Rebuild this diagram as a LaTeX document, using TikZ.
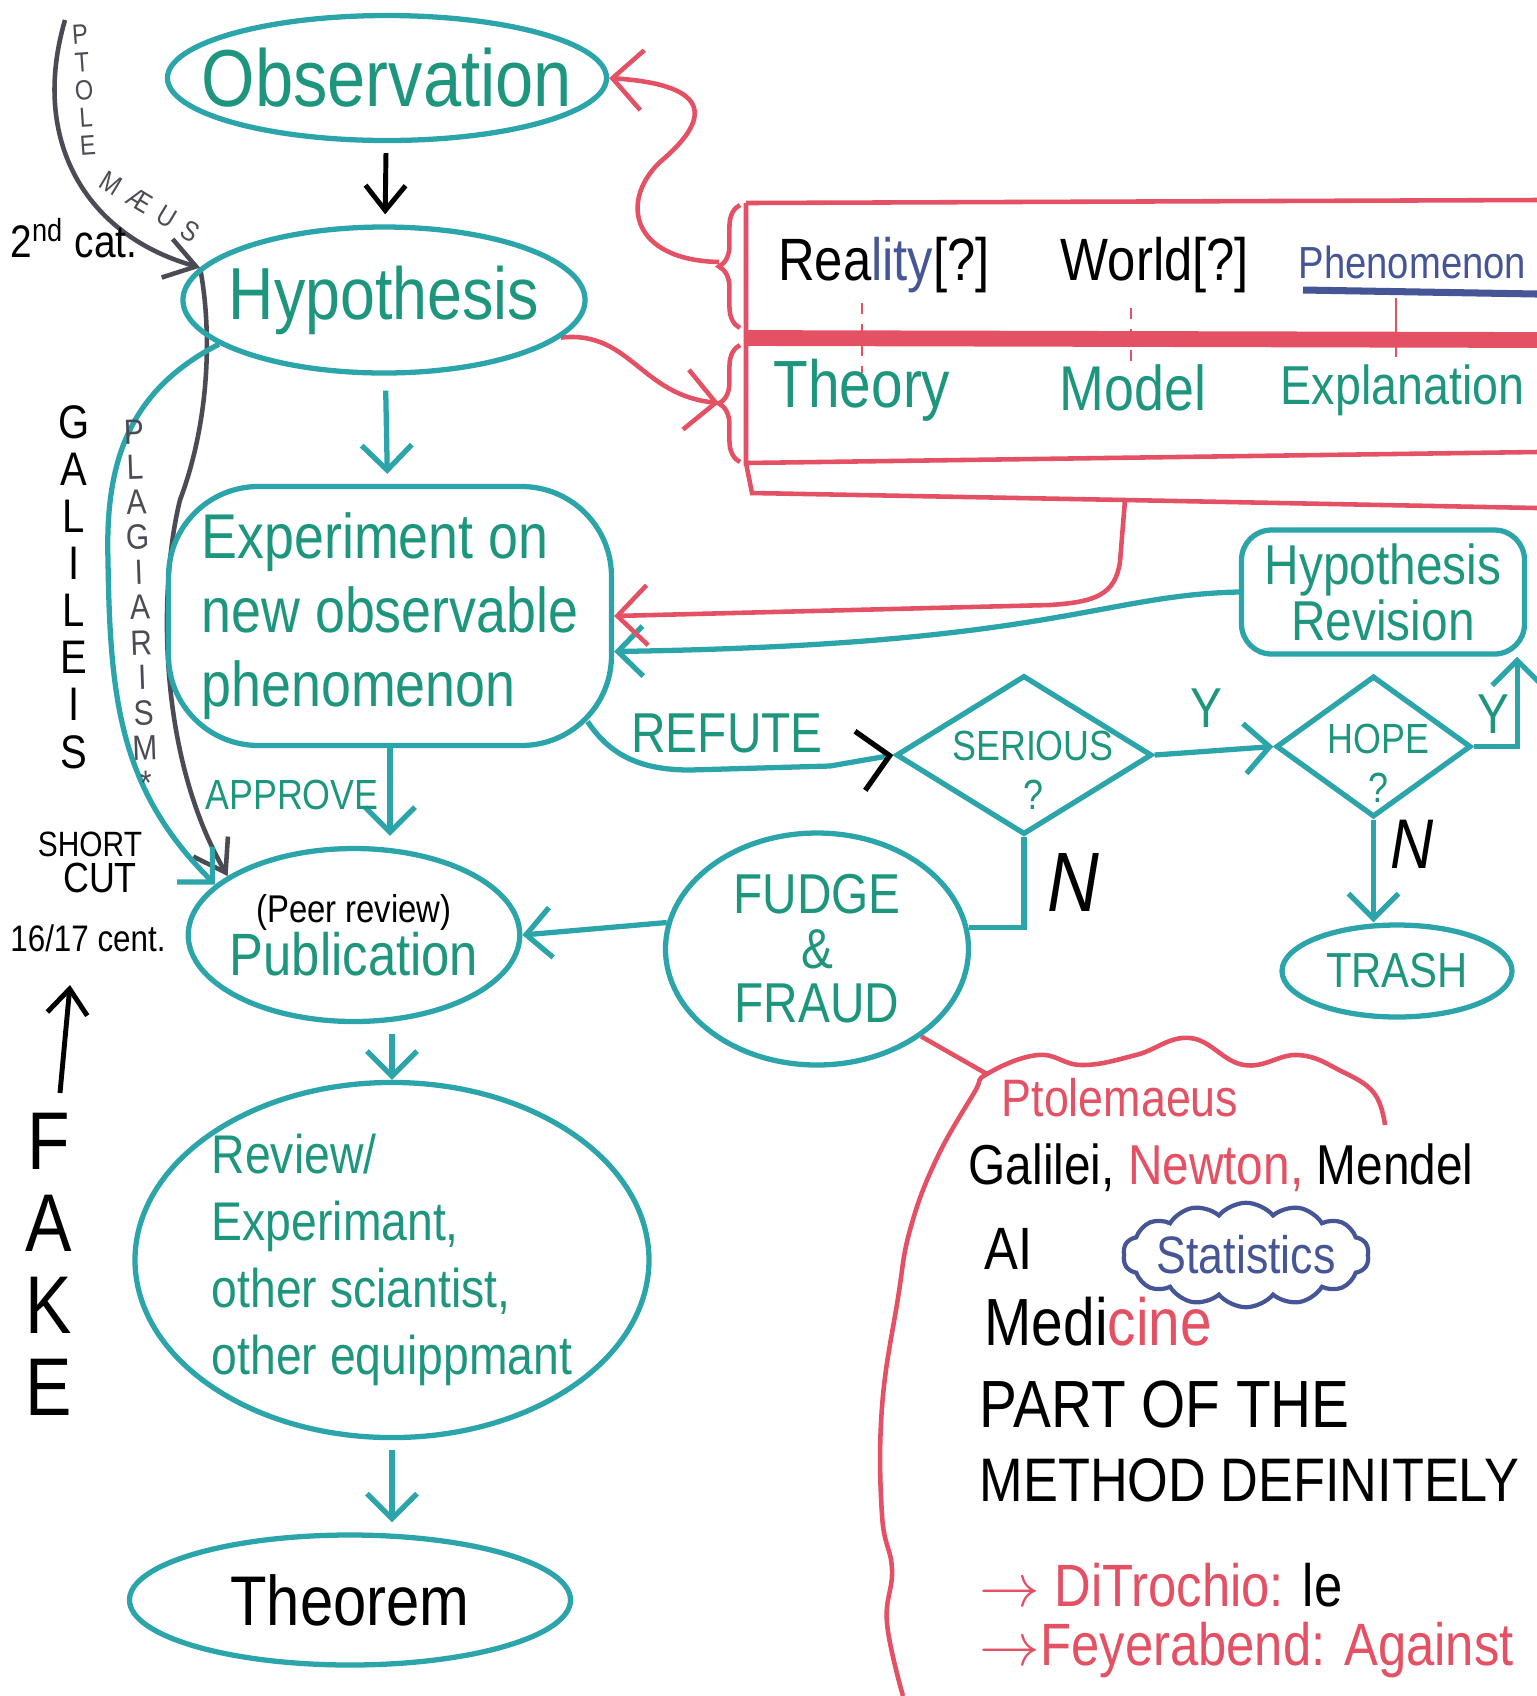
\documentclass[tikz,border=0pt]{standalone}
\usepackage{fontspec}
\setmainfont{Liberation Sans}[FakeStretch=0.85]
\usepackage{tikz}
\usetikzlibrary{arrows.meta}
\usetikzlibrary{shapes.geometric}
\usetikzlibrary{shapes.symbols}
\usetikzlibrary{decorations.pathreplacing}
\pgfdeclarelayer{edgelayer}
\pgfdeclarelayer{nodelayer}
\pgfsetlayers{edgelayer,nodelayer,main}
\definecolor{tealline}{RGB}{43,165,170}
\definecolor{tealtext}{RGB}{30,150,125}
\definecolor{penred}{RGB}{228,80,100}
\definecolor{penblue}{RGB}{70,85,150}
\definecolor{pengray}{RGB}{75,75,85}
\newcommand{\handfont}[2]{\fontsize{#1}{#2}\selectfont}
\tikzstyle{none}=[inner sep=0pt]
\tikzstyle{word}=[inner sep=0pt]
\tikzstyle{column}=[inner sep=0pt, align=center]
\tikzstyle{oval}=[ellipse, draw=tealline, line width=1.5pt, text=tealtext, inner sep=0pt, align=center]
\tikzstyle{roundbox}=[rectangle, draw=tealline, line width=1.5pt, text=tealtext, inner sep=0pt, align=left]
\tikzstyle{decision}=[diamond, draw=tealline, line width=1.5pt, inner sep=0pt]
\tikzstyle{dtext}=[inner sep=0pt, text=tealtext, align=center]
\tikzstyle{transition}=[-{Straight Barb[length=2.5mm,width=5mm]}, draw=tealline, line width=1.5pt]
\tikzstyle{refute}=[-{Straight Barb[length=3mm,width=6mm,color=black]}, draw=tealline, line width=1.5pt]
\tikzstyle{link}=[draw=tealline, line width=1.5pt]
\tikzstyle{inkarrow}=[-{Straight Barb[length=2.5mm,width=4mm]}, draw=black, line width=1.4pt]
\tikzstyle{pencil}=[-{Straight Barb[length=3mm,width=4mm]}, draw=pengray, line width=1.3pt]
\tikzstyle{redline}=[draw=penred, line width=1.3pt]
\tikzstyle{redarrow}=[-{Straight Barb[length=3mm,width=6mm]}, draw=penred, line width=1.3pt]
\begin{document}
\begin{tikzpicture}
	\useasboundingbox (0,0) rectangle (15.37,-16.96);
	\begin{pgfonlayer}{nodelayer}
		\node [style=oval, inner xsep=-0.30cm, minimum width=4.33cm, minimum height=1.25cm, font=\handfont{23}{26}] (0) at (3.87,-0.78) {Observation};
		\node [style=oval, inner xsep=-0.13cm, minimum width=4.0cm, minimum height=1.46cm, font=\handfont{21}{24}] (1) at (3.84,-3.00) {Hypothesis};
		\node [style=roundbox, rounded corners=0.9cm, minimum width=4.43cm, minimum height=2.59cm, font=\handfont{18}{21}] (2) at (3.90,-6.16) {Experiment on\\new observable\\phenomenon};
		\node [style=oval, inner xsep=-0.07cm, minimum width=3.3cm, minimum height=1.73cm, font=\handfont{17}{19}] (3) at (3.54,-9.35) {{\color{black}\handfont{11}{12}(Peer review)}\\[-4pt]Publication};
		\node [style=oval, minimum width=5.14cm, minimum height=3.46cm, font=\handfont{15.5}{19}, align=left] (4) at (3.92,-12.60) {Review/\\Experimant,\\other sciantist,\\other equippmant};
		\node [style=oval, minimum width=4.41cm, minimum height=1.30cm, text=black, font=\handfont{20}{22}] (5) at (3.50,-16.00) {Theorem};
		\node [style=roundbox, rounded corners=0.3cm, minimum width=2.83cm, minimum height=1.24cm, align=center, font=\handfont{16}{16}] (6) at (13.83,-5.92) {Hypothesis\\Revision};
		\node [style=decision, minimum width=2.56cm, minimum height=1.59cm, label={[style=dtext, font=\handfont{12}{14}, xshift=0.09cm, yshift=-0.15cm]center:{SERIOUS\\?}}] (7) at (10.24,-7.55) {};
		\node [style=decision, minimum width=1.95cm, minimum height=1.41cm, label={[style=dtext, font=\handfont{12}{14}, xshift=0.05cm, yshift=-0.17cm]center:{HOPE\\?}}] (8) at (13.735,-7.465) {};
		\node [style=oval, minimum width=2.3cm, minimum height=0.92cm, font=\handfont{14}{16}] (9) at (13.97,-9.71) {TRASH};
		\node [style=oval, minimum width=3.03cm, minimum height=2.32cm, font=\handfont{16}{15.5}] (10) at (8.17,-9.49) {FUDGE\\\&\\FRAUD};
		\node [cloud, cloud puffs=14, cloud puff arc=100, aspect=3, draw=penblue, line width=1.2pt, text=penblue, inner sep=-1pt, font=\handfont{15}{16}] (11) at (12.46,-12.55) {Statistics};
		\node [style=none] (12) at (0.65,-0.20) {};
		\node [style=none] (13) at (7.19,-2.62) {};
		\node [style=none] (14) at (7.19,-4.03) {};
		\node [style=none] (15) at (11.25,-5.0) {};
		\node [style=none] (16) at (9.87,-10.74) {};
		\node [style=none] (17) at (0.60,-10.93) {};
		\node [style=none] (18) at (0.70,-9.85) {};
		\node [style=word, text=tealtext, font=\handfont{16}{16}] (20) at (7.27,-7.33) {REFUTE};
		\node [style=word, text=tealtext, font=\handfont{12}{12}] (21) at (2.92,-7.95) {APPROVE};
		\node [style=word, text=tealtext, font=\handfont{16}{16}] (22) at (12.06,-7.08) {Y};
		\node [style=word, text=tealtext, font=\handfont{16}{16}] (23) at (14.93,-7.14) {Y};
		\node [style=word, font=\handfont{24}{24}\itshape] (24) at (10.73,-8.82) {N};
		\node [style=word, font=\handfont{20}{20}\itshape] (25) at (14.12,-8.44) {N};
		\node [style=word, font=\handfont{17}{17}] (26) at (8.84,-2.65) {Rea{\color{penblue}lity}[?]};
		\node [style=word, font=\handfont{17}{17}] (27) at (11.55,-2.65) {World[?]};
		\node [style=word, anchor=west, text=penblue, font=\handfont{12.8}{13}] (28) at (12.98,-2.62) {Phenomenon};
		\node [style=word, text=tealtext, font=\handfont{19}{19}] (29) at (8.62,-3.9) {Theory};
		\node [style=word, text=tealtext, font=\handfont{18}{18}] (30) at (11.33,-3.88) {Model};
		\node [style=word, anchor=west, text=tealtext, font=\handfont{15.6}{16}] (31) at (12.80,-3.9) {Explanation};
		\node [style=word, anchor=west, text=penred, font=\handfont{15}{15}] (32) at (10.01,-10.98) {Ptolemaeus};
		\node [style=word, anchor=west, font=\handfont{16}{16}] (33) at (9.68,-11.68) {Galilei, {\color{penred}Newton,} Mendel};
		\node [style=word, anchor=west, font=\handfont{17}{17}] (34) at (9.84,-12.49) {AI};
		\node [style=word, anchor=west, font=\handfont{19}{19}] (35) at (9.84,-13.22) {Medi{\color{penred}cine}};
		\node [style=word, anchor=west, font=\handfont{19}{19}] (36) at (9.79,-14.04) {PART OF THE};
		\node [style=word, anchor=west, font=\handfont{17.5}{17.5}] (37) at (9.79,-14.80) {METHOD DEFINITELY};
		\node [style=word, anchor=west, font=\handfont{17}{17}] (38) at (9.79,-15.85) {{\color{penred}$\rightarrow$ DiTrochio:} le};
		\node [style=word, anchor=west, text=penred, font=\handfont{17}{17}] (39) at (9.79,-16.50) {$\rightarrow$Feyerabend: Against};
		\node [style=word, font=\handfont{13}{13}] (40) at (0.74,-2.38) {2\textsuperscript{nd} cat.};
		\node [style=word, font=\handfont{10}{10}] (41) at (0.90,-8.44) {SHORT};
		\node [style=word, font=\handfont{12}{12}] (42) at (1.00,-8.78) {CUT};
		\node [style=word, font=\handfont{10.5}{10.5}] (43) at (0.88,-9.38) {16/17 cent.};
		% stacked letters along the side paths
		\node [style=column, text=pengray, rotate=4, font=\handfont{7.9}{7.9}] (44) at (0.84,-0.90) {P\\T\\O\\L\\E};
		\node [style=word, text=pengray, rotate=-31, font=\handfont{8}{8}\addfontfeature{LetterSpace=40}] (45) at (1.50,-2.07) {M\AE US};
		\node [style=column, font=\handfont{13.4}{13.4}] (46) at (0.74,-5.87) {G\\A\\L\\I\\L\\E\\I\\S};
		\node [style=column, text=pengray, rotate=2, font=\handfont{10}{10}] (47) at (1.40,-6.075) {P\\L\\A\\G\\I\\A\\R\\I\\S\\M\\*};
		\node [style=column, font=\handfont{23.3}{23.3}] (48) at (0.49,-12.645) {F\\A\\K\\E};
	\end{pgfonlayer}
	\begin{pgfonlayer}{edgelayer}
		\draw [style=inkarrow, shorten <=1mm, shorten >=1mm] (0) to (1);
		\draw [style=transition, shorten <=1.5mm, shorten >=1mm] (1) to (2);
		\draw [style=transition, shorten >=1mm] (2.south) to (3.north -| 2.south);
		\draw [style=transition, shorten <=1mm] (4.north |- 3.south) to (4.north);
		\draw [style=transition, shorten <=1mm, shorten >=1mm] (4.south) to (5.north -| 4.south);
		\draw [style=transition] (6.west) .. controls (11.0,-5.95) and (10.5,-6.45) .. (2.-9);
		\draw [style=redarrow] (15.center) -- (11.2,-5.62) .. controls (11.15,-5.95) and (10.95,-6.02) .. (10.5,-6.05) -- (2.east);
		\draw [style=refute] ([shift={(-0.265,0.265)}]2.south east) .. controls (6.1,-7.55) and (6.4,-7.70) .. (6.9,-7.70) -- (8.3,-7.66) -- (7.west);
		\draw [style=transition] (7.east) to (8.west);
		\draw [style=transition] (8.east) -| ([xshift=-1mm]6.south east);
		\draw [style=link] (7.south) |- (10.8);
		\draw [style=transition] (8.south) to (9.north -| 8.south);
		\draw [style=transition] (10.170) to (3.east);
		\draw [style=redarrow] (1.-12) .. controls (6.3,-3.3) and (6.4,-3.95) .. (14.center);
		\draw [style=redarrow] (13.center) .. controls (6.3,-2.6) and (6.2,-2.0) .. (6.6,-1.62) .. controls (7.1,-1.2) and (7.15,-0.85) .. (0.east);
		\draw [style=pencil] (12.center) .. controls (0.3,-1.4) and (0.85,-2.35) .. (1.170);
		\draw [style=pencil] (1.170) .. controls (2.12,-3.3) and (2.1,-4.2) .. (1.8,-5.0) .. controls (1.6,-5.8) and (1.55,-7.5) .. (3.155);
		\draw [style=transition] (1.-165) .. controls (1.3,-3.9) and (1.05,-4.6) .. (1.08,-5.6) .. controls (1.1,-7.0) and (1.2,-7.9) .. (3.160);
		\draw [style=inkarrow] (17.center) to (18.center);
		\draw [style=redline] (10.-40) -- (16.center);
		% red cloud round the examples
		\draw [style=redline] plot [smooth, tension=0.7] coordinates {(13.85,-11.25) (13.74,-10.93) (13.41,-10.71) (12.98,-10.55) (12.44,-10.65) (11.90,-10.38) (11.36,-10.55) (10.82,-10.65) (10.38,-10.55) (9.87,-10.74) (9.74,-10.93) (9.36,-11.6) (9.1,-12.3) (8.98,-12.98) (8.82,-14.07) (8.82,-15.15) (8.92,-15.69) (8.87,-16.23) (9.03,-16.96)};
		% terms box
		\draw [style=redline] (7.46,-2.03) -- (15.37,-2.0);
		\draw [style=redline] (7.46,-2.03) -- (7.46,-4.63) -- (15.37,-4.52);
		\draw [draw=penred, line width=4.5pt] (7.46,-3.38) -- (15.37,-3.40);
		\draw [style=redline, decorate, decoration={brace, amplitude=6pt}] (7.40,-3.28) -- (7.40,-2.05);
		\draw [style=redline, decorate, decoration={brace, amplitude=6pt}] (7.40,-4.62) -- (7.40,-3.45);
		\draw [style=redline] (7.46,-4.63) -- (7.52,-4.93) -- (15.center) -- (15.37,-5.08);
		\draw [draw=penred, line width=0.8pt, dashed] (8.62,-3.03) -- (8.62,-3.73);
		\draw [draw=penred, line width=0.8pt, dashed] (11.31,-3.08) -- (11.31,-3.68);
		\draw [draw=penred, line width=0.8pt] (13.96,-2.98) -- (13.96,-3.57);
		\draw [draw=penblue, line width=2pt] (13.03,-2.90) -- (15.37,-2.94);
	\end{pgfonlayer}
\end{tikzpicture}
\end{document}
